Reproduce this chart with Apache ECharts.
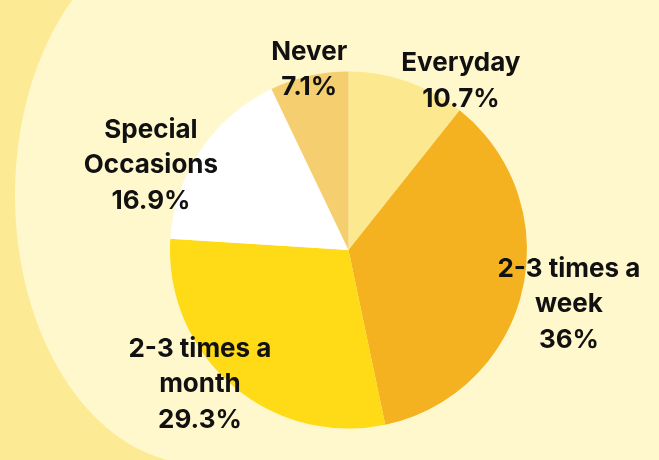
<!DOCTYPE html>
<html>
<head>
<meta charset="utf-8">
<style>
  html, body { margin: 0; padding: 0; background: #fcea94; }
  #chart { width: 659px; height: 460px; }
</style>
<script src="https://cdn.jsdelivr.net/npm/echarts@6/dist/echarts.min.js"></script>
</head>
<body>
<div id="chart"></div>
<script>
// ---- data ----
const categories = ['Everyday', '2-3 times a week', '2-3 times a month', 'Special Occasions', 'Never'];
const labelText = [['Everyday'], ['2-3 times a', 'week'], ['2-3 times a', 'month'], ['Special', 'Occasions'], ['Never']];
const values = [10.7, 36, 29.3, 16.9, 7.1];
const colors = ['#fbe88f', '#f4b120', '#ffda17', '#ffffff', '#f5cf6f'];

// ---- layout (not data) ----
const CX = 348.5, CY = 250, R = 178.5;
// label placement: angle nudge (deg) from slice mid-angle, and radial distance factor
const labelNudge = [[14.2, 1.142], [0.2, 1.27], [7.3, 1.117], [-10.5, 1.207], [0.6, 1.043]];

const total = values.reduce((a, b) => a + b, 0);
const midAngles = [];
let acc = 0;
values.forEach(v => { midAngles.push((acc + v / 2) / total * 360); acc += v; });

// decorative light backdrop: left half of an ellipse extended off the right edge
const bgPts = [];
const EX = 199, EY = 195, ERX = 184, ERY = 269;
for (let k = 0; k <= 180; k++) {
  const t = (-90 - k) * Math.PI / 180; // from top, round the left side, to bottom
  bgPts.push([EX + ERX * Math.cos(t), EY + ERY * Math.sin(t)]);
}
bgPts.push([760, EY + ERY], [760, EY - ERY]);

const chart = echarts.init(document.getElementById('chart'), null, { renderer: 'canvas' });
chart.setOption({
  animation: false,
  backgroundColor: '#fcea94',
  graphic: [{
    type: 'polygon',
    shape: { points: bgPts },
    style: { fill: '#fff8cd' },
    z: 0,
    silent: true
  }],
  series: [{
    type: 'pie',
    center: [CX, CY],
    radius: [0, R],
    startAngle: 90,
    clockwise: true,
    silent: true,
    z: 2,
    data: categories.map((c, i) => ({ name: c, value: values[i], itemStyle: { color: colors[i] } })),
    label: {
      show: true,
      position: 'inside',
      color: '#111111',
      fontFamily: 'Inter',
      fontWeight: 700,
      fontSize: 26,
      lineHeight: 35.5,
      align: 'center',
      verticalAlign: 'middle',
      formatter: p => labelText[p.dataIndex].join('\n') + '\n' + values[p.dataIndex] + '%'
    },
    labelLine: { show: false },
    labelLayout: p => {
      const i = p.dataIndex;
      const a = (midAngles[i] + labelNudge[i][0]) * Math.PI / 180;
      const d = R * labelNudge[i][1];
      return { x: CX + d * Math.sin(a), y: CY - d * Math.cos(a) + 1.5, align: 'center', verticalAlign: 'middle' };
    }
  }]
});
</script>
</body>
</html>
